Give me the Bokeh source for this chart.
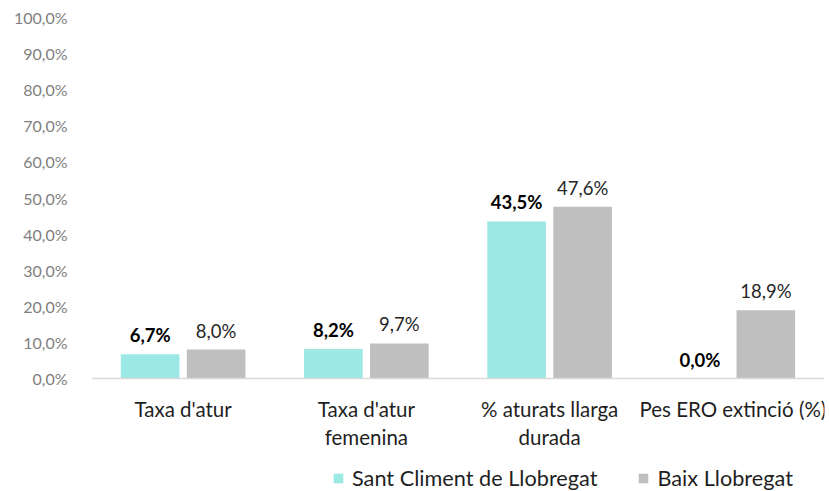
from bokeh.plotting import figure
from bokeh.models import ColumnDataSource, FixedTicker, Span, Legend, LegendItem
from bokeh.transform import dodge
from bokeh.core.properties import value
from bokeh.embed import file_html
from bokeh.resources import INLINE

# ---- data ----
categories = ["Taxa d'atur", "Taxa d'atur\nfemenina", "% aturats llarga\ndurada", "Pes ERO extinció (%)"]
sant_climent = [6.7, 8.2, 43.5, 0.0]
baix_llobregat = [8.0, 9.7, 47.6, 18.9]
series_names = ["Sant Climent de Llobregat", "Baix Llobregat"]
y_ticks = [0, 10, 20, 30, 40, 50, 60, 70, 80, 90, 100]
y_tick_labels = ["0,0%", "10,0%", "20,0%", "30,0%", "40,0%", "50,0%", "60,0%", "70,0%", "80,0%", "90,0%", "100,0%"]

FONT = "Lato"
CYAN = "#9BE8E4"
GRAY = "#BFBFBF"


def fmt(v):
    return f"{v:.1f}%".replace(".", ",")


src = ColumnDataSource(dict(
    cat=categories,
    sant=sant_climent,
    baix=baix_llobregat,
    sant_lbl=[fmt(v) for v in sant_climent],
    baix_lbl=[fmt(v) for v in baix_llobregat],
    line1=[c.split("\n")[0] for c in categories],
    line2=[c.split("\n")[1] if "\n" in c else "" for c in categories],
))

p = figure(x_range=categories, y_range=(-31.3, 100), width=829, height=491,
           output_backend="svg", toolbar_location=None, x_axis_location=None,
           min_border_left=91, min_border_right=5, min_border_top=17, min_border_bottom=0)
p.outline_line_color = None
p.xgrid.visible = False
p.ygrid.visible = False
p.background_fill_color = "white"
p.border_fill_color = "white"

# y axis
ax = p.yaxis[0]
ax.ticker = FixedTicker(ticks=y_ticks)
ax.major_label_overrides = {t: l for t, l in zip(y_ticks, y_tick_labels)}
ax.axis_line_color = None
ax.major_tick_line_color = None
ax.minor_tick_line_color = None
ax.major_label_standoff = 18
ax.major_label_text_font = FONT
ax.major_label_text_font_size = "16px"
ax.major_label_text_color = "#7F7F7F"

# bars
r1 = p.vbar(x=dodge("cat", -0.18, range=p.x_range), top="sant", width=0.32, bottom=0,
            source=src, fill_color=CYAN, line_color=None)
r2 = p.vbar(x=dodge("cat", 0.18, range=p.x_range), top="baix", width=0.32, bottom=0,
            source=src, fill_color=GRAY, line_color=None)

# baseline
p.add_layout(Span(location=0, dimension="width", line_color="#D9D9D9", line_width=1.5))

# value labels
p.text(x=dodge("cat", -0.18, range=p.x_range), y="sant", text="sant_lbl", source=src,
       text_align="center", text_baseline="alphabetic", y_offset=-19,
       text_font=value(FONT), text_font_size="18.5px", text_font_style="bold",
       text_color="#000000")
p.text(x=dodge("cat", 0.18, range=p.x_range), y="baix", text="baix_lbl", source=src,
       text_align="center", text_baseline="alphabetic", y_offset=-19,
       text_font=value(FONT), text_font_size="18.5px", text_color="#262626")

# category labels
p.text(x="cat", y=0, text="line1", source=src, text_align="center",
       text_baseline="alphabetic", y_offset=30, text_font=value(FONT),
       text_font_size="20.5px", text_color="#1F1F1F")
p.text(x="cat", y=0, text="line2", source=src, text_align="center",
       text_baseline="alphabetic", y_offset=58, text_font=value(FONT),
       text_font_size="20.5px", text_color="#1F1F1F")

# legend
legend = Legend(items=[LegendItem(label=series_names[0], renderers=[r1]),
                       LegendItem(label=series_names[1], renderers=[r2])],
                orientation="horizontal", location=(241, 0),
                glyph_width=12, glyph_height=12, label_standoff=8, spacing=40,
                padding=0, margin=0, border_line_color=None, background_fill_alpha=0,
                label_text_font=FONT, label_text_font_size="21.7px",
                label_text_color="#1F1F1F")
p.add_layout(legend)

open("out.html", "w").write(file_html(p, INLINE))
